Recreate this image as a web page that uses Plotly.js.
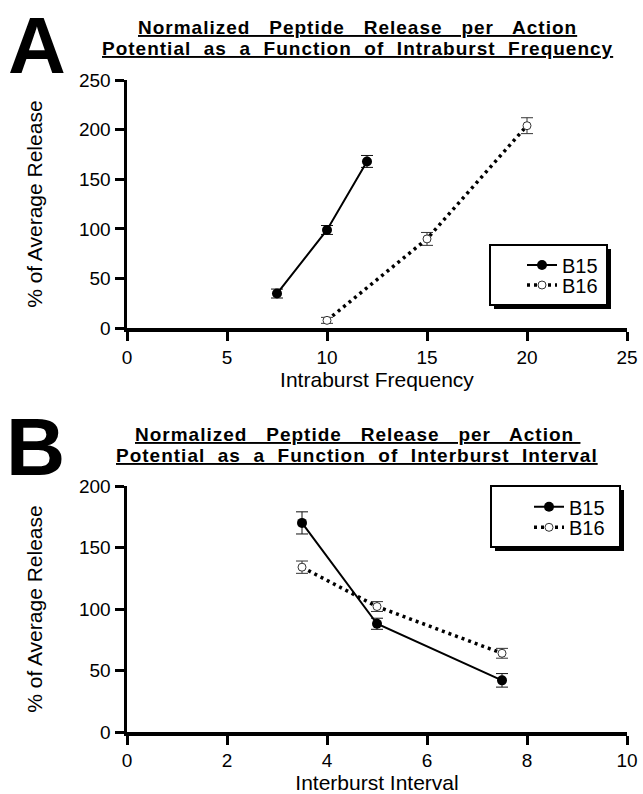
<!DOCTYPE html>
<html>
<head>
<meta charset="utf-8">
<script src="https://cdn.plot.ly/plotly-3.0.1.min.js"></script>
<style>html,body{margin:0;padding:0;background:#fff;}#chart{width:643px;height:794px;}</style>
</head>
<body>
<div id="chart"></div>
<script>
// Panel A: release vs intraburst frequency
const intraFreqB15 = [7.5, 10, 12];
const releaseB15A = [35, 99, 168];
const errB15A = [4.5, 4.5, 6];
const intraFreqB16 = [10, 15, 20];
const releaseB16A = [8, 90, 204];
const errB16A = [3, 6.5, 8];
// Panel B: release vs interburst interval
const interIntervalB15 = [3.5, 5, 7.5];
const releaseB15B = [170, 88, 42];
const errB15B = [9, 4.5, 5.5];
const interIntervalB16 = [3.5, 5, 7.5];
const releaseB16B = [134, 102, 64];
const errB16B = [5, 4, 4];

const seriesNames = ['B15', 'B16'];
const xTitleA = 'Intraburst Frequency';
const xTitleB = 'Interburst Interval';
const yTitle = '% of Average Release';
const titleA = ['Normalized&nbsp;&nbsp; Peptide&nbsp;&nbsp; Release&nbsp;&nbsp; per&nbsp;&nbsp; Action', 'Potential&nbsp; as&nbsp; a&nbsp; Function&nbsp; of&nbsp; Intraburst&nbsp; Frequency'];
const titleB = ['Normalized&nbsp;&nbsp; Peptide&nbsp;&nbsp; Release&nbsp;&nbsp; per&nbsp;&nbsp; Action&nbsp;', 'Potential&nbsp; as&nbsp; a&nbsp; Function&nbsp; of&nbsp; Interburst&nbsp; Interval'];

const FONT = 'Liberation Sans, Arial, Helvetica, sans-serif';
const W = 643, H = 794, ML = 127, MR = 16, MT = 80, MB = 62;
const PW = W - ML - MR, PH = H - MT - MB;
const px = X => (X - ML) / PW;
const py = Y => (H - MB - Y) / PH;

function solid(x, y, e, xa, ya, leg) {
  return {x: x, y: y, type: 'scatter', mode: 'lines+markers', name: seriesNames[0],
    xaxis: xa, yaxis: ya, legend: leg,
    line: {color: '#000', width: 2},
    marker: {symbol: 'circle', size: 10, color: '#000'},
    error_y: {type: 'data', array: e, visible: true, color: '#111', thickness: 1, width: 6}};
}
function dotted(x, y, e, xa, ya, leg) {
  return {x: x, y: y, type: 'scatter', mode: 'lines+markers', name: seriesNames[1],
    xaxis: xa, yaxis: ya, legend: leg,
    line: {color: '#000', width: 3.5, dash: '3px,4px'},
    marker: {symbol: 'circle', size: 8, color: '#fff', line: {color: '#333', width: 1}},
    error_y: {type: 'data', array: e, visible: true, color: '#333', thickness: 1, width: 6}};
}

const data = [
  solid(intraFreqB15, releaseB15A, errB15A, 'x', 'y', 'legend'),
  dotted(intraFreqB16, releaseB16A, errB16A, 'x', 'y', 'legend2'),
  solid(interIntervalB15, releaseB15B, errB15B, 'x2', 'y2', 'legend3'),
  dotted(interIntervalB16, releaseB16B, errB16B, 'x2', 'y2', 'legend4')
];

function axis(extra) {
  return Object.assign({
    showline: true, linecolor: '#000', linewidth: 3.5,
    ticks: 'outside', ticklen: 9, tickwidth: 3, tickcolor: '#000',
    showgrid: false, zeroline: false, fixedrange: true,
    tickfont: {family: FONT, size: 19, color: '#000'}
  }, extra);
}

function leg(X, Y) {
  return {x: px(X), y: py(Y), xanchor: 'left', yanchor: 'middle',
    bgcolor: 'rgba(0,0,0,0)', borderwidth: 0,
    font: {family: FONT, size: 20, color: '#000'}};
}

function titleLine(txt, Y) {
  return {xref: 'paper', yref: 'paper', x: px(357), y: py(Y), xanchor: 'center', yanchor: 'middle',
    showarrow: false,
    text: '<span style="letter-spacing:1px"><u>' + txt + '</u></span>',
    font: {family: FONT, size: 19, color: '#000', weight: 'bold'}};
}

const layout = {
  width: W, height: H,
  margin: {l: ML, r: MR, t: MT, b: MB, pad: 0},
  paper_bgcolor: '#fff', plot_bgcolor: '#fff',
  font: {family: FONT, color: '#000'},
  xaxis: axis({domain: [0, 1], anchor: 'y', range: [0, 25], dtick: 5, tick0: 0,
    title: {text: xTitleA, font: {family: FONT, size: 21, color: '#000'}, standoff: 5}}),
  yaxis: axis({domain: [py(328.3), 1], anchor: 'x', range: [0, 250], dtick: 50, tick0: 0,
    title: {text: yTitle, font: {family: FONT, size: 21, color: '#000'}, standoff: 31}}),
  xaxis2: axis({domain: [0, 1], anchor: 'y2', range: [0, 10], dtick: 2, tick0: 0,
    title: {text: xTitleB, font: {family: FONT, size: 21, color: '#000'}, standoff: 2}}),
  yaxis2: axis({domain: [0, py(486)], anchor: 'x2', range: [0, 200], dtick: 50, tick0: 0,
    title: {text: yTitle, font: {family: FONT, size: 21, color: '#000'}, standoff: 31}}),
  showlegend: true,
  legend: leg(522, 265),
  legend2: leg(522, 285),
  legend3: leg(529, 506.7),
  legend4: leg(529, 527.3),
  shapes: [
    {type: 'rect', xref: 'paper', yref: 'paper', x0: px(494), x1: px(611), y0: py(249), y1: py(309),
      fillcolor: '#000', line: {width: 0}, layer: 'above'},
    {type: 'rect', xref: 'paper', yref: 'paper', x0: px(490), x1: px(607), y0: py(245), y1: py(305),
      fillcolor: '#fff', line: {color: '#000', width: 2}, layer: 'above'},
    {type: 'rect', xref: 'paper', yref: 'paper', x0: px(495), x1: px(624), y0: py(490), y1: py(551),
      fillcolor: '#000', line: {width: 0}, layer: 'above'},
    {type: 'rect', xref: 'paper', yref: 'paper', x0: px(491), x1: px(620), y0: py(486), y1: py(547),
      fillcolor: '#fff', line: {color: '#000', width: 2}, layer: 'above'}
  ],
  annotations: [
    {xref: 'paper', yref: 'paper', x: px(7), y: py(0), xanchor: 'left', yanchor: 'top', borderpad: 0,
      showarrow: false, text: 'A', font: {family: FONT, size: 80, color: '#000', weight: 'bold'}},
    {xref: 'paper', yref: 'paper', x: px(4), y: py(446.3), xanchor: 'left', yanchor: 'middle',
      showarrow: false, text: 'B', font: {family: FONT, size: 82, color: '#000', weight: 'bold'}},
    titleLine(titleA[0], 27.5),
    titleLine(titleA[1], 48.5),
    titleLine(titleB[0], 434),
    titleLine(titleB[1], 455)
  ]
};

Plotly.newPlot('chart', data, layout, {staticPlot: true, displayModeBar: false});
</script>
</body>
</html>
